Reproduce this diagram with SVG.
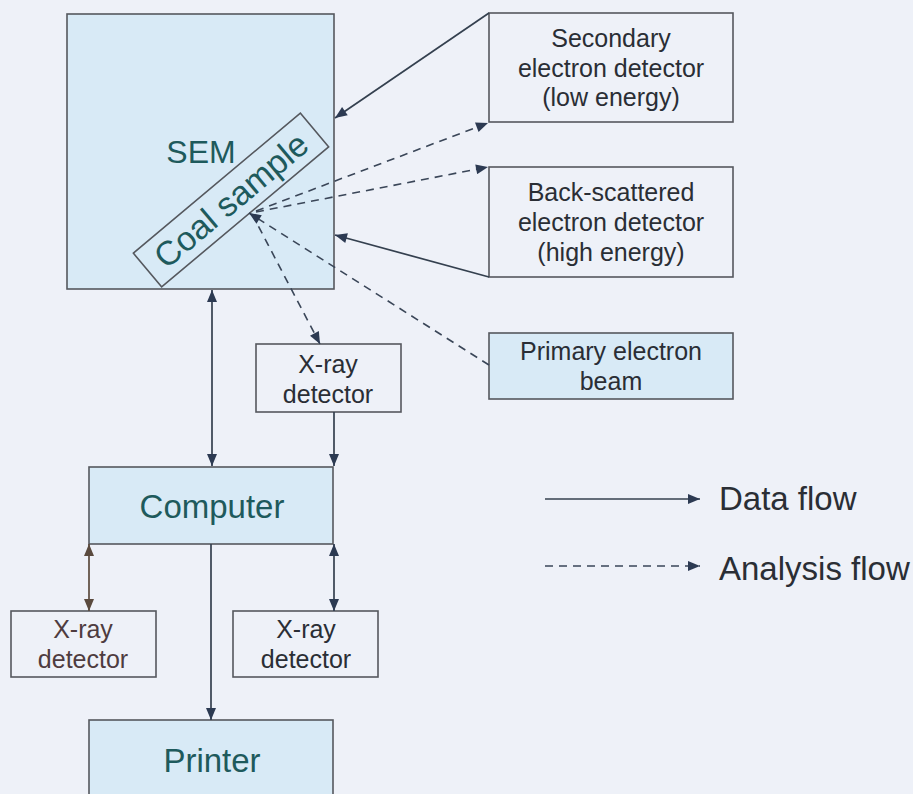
<svg xmlns="http://www.w3.org/2000/svg" width="913" height="794" viewBox="0 0 913 794">
  <defs>
    <marker id="arrow" viewBox="0 0 12 10" refX="12" refY="5" markerWidth="13" markerHeight="10" markerUnits="userSpaceOnUse" orient="auto-start-reverse">
      <path d="M0,0 L12,5 L0,10 z" fill="#2c3a52"/>
    </marker>
    <marker id="arrow-brown" viewBox="0 0 12 10" refX="12" refY="5" markerWidth="13" markerHeight="10" markerUnits="userSpaceOnUse" orient="auto-start-reverse">
      <path d="M0,0 L12,5 L0,10 z" fill="#5a4a3e"/>
    </marker>
  </defs>
  <style>
    .box { fill: none; stroke: #55585e; stroke-width: 1.6; }
    .filled { fill: #d8eaf6; stroke: #55585e; stroke-width: 1.6; }
    .lbl { font-family: "Liberation Sans", Arial, sans-serif; font-size: 25px; fill: #2a2e35; text-anchor: middle; }
    .big { font-family: "Liberation Sans", Arial, sans-serif; font-size: 33px; fill: #1e5a5c; text-anchor: middle; }
    .leg { font-family: "Liberation Sans", Arial, sans-serif; font-size: 33px; fill: #2a2e35; }
    .solid { fill: none; stroke: #34404f; stroke-width: 1.7; }
    .dash { fill: none; stroke: #3a4658; stroke-width: 1.6; stroke-dasharray: 8 6; }
  </style>

  <rect width="913" height="794" fill="#eef1f8"/>

  <!-- SEM chamber with the tilted sample -->
  <g id="sem">
    <rect class="filled" x="67" y="14" width="267" height="275"/>
    <text class="big" x="201" y="163" style="font-size:32px">SEM</text>
  </g>
  <g id="coal-sample" transform="rotate(-40 231 200)">
    <rect class="box" x="122" y="178" width="218" height="44" stroke="#3c4a5a"/>
    <text class="big" x="231" y="212" style="font-size:34px">Coal sample</text>
  </g>

  <!-- detectors and source -->
  <g id="secondary-detector">
    <rect class="box" x="489" y="13" width="244" height="109"/>
    <text class="lbl" x="611" y="47">Secondary</text>
    <text class="lbl" x="611" y="76.5">electron detector</text>
    <text class="lbl" x="611" y="106">(low energy)</text>
  </g>
  <g id="backscatter-detector">
    <rect class="box" x="489" y="167" width="244" height="110"/>
    <text class="lbl" x="611" y="201">Back-scattered</text>
    <text class="lbl" x="611" y="231">electron detector</text>
    <text class="lbl" x="611" y="261">(high energy)</text>
  </g>
  <g id="primary-beam">
    <rect class="filled" x="489" y="333" width="244" height="66"/>
    <text class="lbl" x="611" y="360">Primary electron</text>
    <text class="lbl" x="611" y="390">beam</text>
  </g>
  <g id="xray-top">
    <rect class="box" x="256" y="344" width="145" height="68"/>
    <text class="lbl" x="328" y="373">X-ray</text>
    <text class="lbl" x="328" y="403">detector</text>
  </g>

  <!-- processing and output -->
  <g id="computer">
    <rect class="filled" x="89" y="467" width="244" height="77"/>
    <text class="big" x="212" y="518">Computer</text>
  </g>
  <g id="xray-left">
    <rect class="box" x="11" y="611" width="145" height="66" stroke="#5e5350"/>
    <text class="lbl" x="83" y="638" style="fill:#4e3c40">X-ray</text>
    <text class="lbl" x="83" y="668" style="fill:#4e3c40">detector</text>
  </g>
  <g id="xray-right">
    <rect class="box" x="233" y="611" width="145" height="66"/>
    <text class="lbl" x="306" y="638">X-ray</text>
    <text class="lbl" x="306" y="668">detector</text>
  </g>
  <g id="printer">
    <rect class="filled" x="89" y="720" width="244" height="90"/>
    <text class="big" x="212" y="772">Printer</text>
  </g>

  <!-- connectors -->
  <g id="connectors">
    <line class="solid" x1="212" y1="290" x2="212" y2="466" marker-start="url(#arrow)" marker-end="url(#arrow)"/>
    <line class="solid" x1="334" y1="412" x2="334" y2="466" marker-end="url(#arrow)"/>
    <line class="dash" x1="252" y1="214" x2="320" y2="344" marker-end="url(#arrow)"/>
    <line class="solid" x1="489" y1="13" x2="335" y2="118" marker-end="url(#arrow)"/>
    <line class="dash" x1="256" y1="211" x2="488" y2="123" marker-end="url(#arrow)"/>
    <line class="dash" x1="256" y1="212" x2="488" y2="167" marker-end="url(#arrow)"/>
    <line class="solid" x1="489" y1="277" x2="335" y2="235" marker-end="url(#arrow)"/>
    <line class="dash" x1="489" y1="365" x2="249" y2="213" marker-end="url(#arrow)"/>
    <line class="solid" x1="89" y1="544" x2="89" y2="611" style="stroke:#5a4a3e" marker-start="url(#arrow-brown)" marker-end="url(#arrow-brown)"/>
    <line class="solid" x1="334" y1="544" x2="334" y2="611" marker-start="url(#arrow)" marker-end="url(#arrow)"/>
    <line class="solid" x1="211" y1="544" x2="211" y2="720" marker-end="url(#arrow)"/>
  </g>

  <!-- legend -->
  <g id="legend">
    <line class="solid" x1="545" y1="499" x2="700" y2="499" marker-end="url(#arrow)"/>
    <text class="leg" x="719" y="510">Data flow</text>
    <line class="dash" x1="545" y1="566" x2="700" y2="566" marker-end="url(#arrow)"/>
    <text class="leg" x="719" y="580">Analysis flow</text>
  </g>
</svg>
